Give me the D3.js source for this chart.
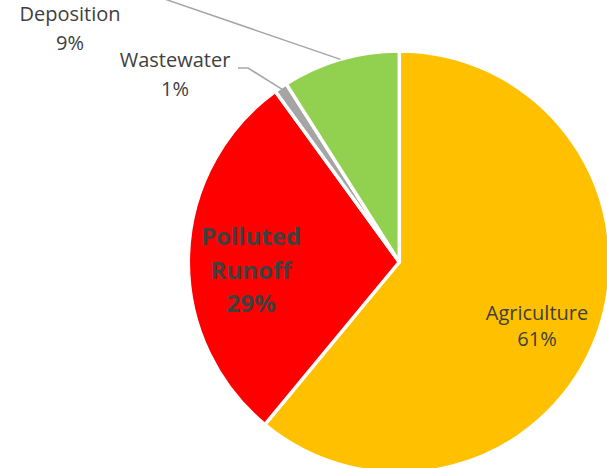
<!DOCTYPE html>
<html lang="en">

<head>
  <meta charset="UTF-8">
  <title>Nitrogen sources pie</title>
  <style>
    body { margin: 0; background: #fff; }
    text { font-family: "Open Sans", "Noto Sans", sans-serif; fill: #404040; }
  </style>
  <script src="https://d3js.org/d3.v7.min.js"></script>
</head>

<body>
  <svg id="pie" width="607" height="468"></svg>
  <script>
    const categories = ["Agriculture", "Polluted Runoff", "Wastewater", "Deposition"];
    const values = [61, 29, 1, 9];
    const colors = ["#ffc000", "#ff0000", "#a5a5a5", "#92d050"];

    const data = categories.map((c, i) => ({ name: c, value: values[i], color: colors[i] }));

    const svg = d3.select("svg#pie");
    const cx = 399.3, cy = 262, radius = 211;

    const chartArea = svg.append("g")
      .attr("transform", `translate(${cx},${cy})`);

    const pie = d3.pie().sort(null).value(d => d.value);
    const arcs = pie(data);
    const arc = d3.arc().innerRadius(0).outerRadius(radius);

    chartArea.selectAll("path.slice")
      .data(arcs)
      .join("path")
      .attr("class", "slice")
      .attr("d", arc)
      .attr("fill", d => d.data.color)
      .attr("stroke", "#fff")
      .attr("stroke-width", 3.5)
      .attr("stroke-linejoin", "round");

    // point on the rim at a slice's middle angle (page coords)
    function rimPoint(a, r) {
      const mid = (a.startAngle + a.endAngle) / 2;
      return [cx + r * Math.sin(mid), cy - r * Math.cos(mid)];
    }

    // leader lines
    const depo = rimPoint(arcs[3], radius);
    svg.append("path")
      .attr("d", d3.line()([[150, -6], depo]))
      .attr("fill", "none")
      .attr("stroke", "#a6a6a6")
      .attr("stroke-width", 1.5);

    const waste = rimPoint(arcs[2], radius - 2);
    svg.append("path")
      .attr("d", d3.line()([[238, 68], [248, 68], waste]))
      .attr("fill", "none")
      .attr("stroke", "#a6a6a6")
      .attr("stroke-width", 1.5);

    // labels
    function label(lines, x, y0, gap, size, weight) {
      const t = svg.append("text")
        .attr("text-anchor", "middle")
        .style("font-size", size + "px")
        .style("font-weight", weight);
      lines.forEach((s, i) => {
        t.append("tspan").attr("x", x).attr("y", y0 + i * gap).text(s);
      });
    }

    const pct = d => d.value + "%";
    label(["Deposition", pct(data[3])], 70, 21, 29, 20, "normal");
    label(["Wastewater", pct(data[2])], 175, 67, 29, 20, "normal");
    label(["Polluted", "Runoff", pct(data[1])], 251, 245, 33.5, 24, "bold");
    label(["Agriculture", pct(data[0])], 537, 320, 25.5, 20, "normal");
  </script>
</body>

</html>
